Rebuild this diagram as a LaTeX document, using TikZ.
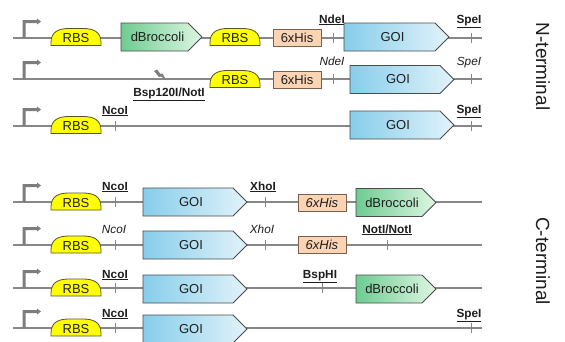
\documentclass[tikz,border=0pt]{standalone}
\usepackage{fontspec}
\setmainfont{Liberation Sans}
\usetikzlibrary{arrows.meta}
\definecolor{bbgray}{RGB}{135,135,135}
\definecolor{promgray}{RGB}{125,125,125}
\definecolor{outl}{RGB}{75,75,75}
\definecolor{rbsfill}{RGB}{255,255,0}
\definecolor{rbsline}{RGB}{85,85,45}
\definecolor{goiL}{RGB}{135,205,235}
\definecolor{goiR}{RGB}{226,243,250}
\definecolor{brL}{RGB}{110,204,145}
\definecolor{brR}{RGB}{222,246,226}
\definecolor{hisfill}{RGB}{251,212,180}
\definecolor{hisline}{RGB}{125,95,75}
\definecolor{txt}{RGB}{30,30,30}
\tikzset{
  bbline/.style={draw=bbgray, line width=1.1pt},
  promfill/.style={fill=promgray},
  sitetick/.style={draw=bbgray, line width=0.8pt},
  goistyle/.style={left color=goiL, right color=goiR, draw=outl, line width=0.8pt},
  brstyle/.style={left color=brL, right color=brR, draw=outl, line width=0.8pt},
  rbsstyle/.style={fill=rbsfill, draw=rbsline, line width=0.8pt},
  hisstyle/.style={fill=hisfill, draw=hisline, line width=0.8pt},
  boxtext/.style={inner sep=0pt, text=txt, font=\fontsize{13}{15}\selectfont},
  sitelab/.style={inner sep=0pt, anchor=base, text=txt, font=\fontsize{11.8}{14}\selectfont},
  sidelab/.style={inner sep=0pt, rotate=-90, text=txt, font=\fontsize{19}{22}\selectfont}
}
% backbone with promoter: name, y
\newcommand\mybackbone[2]{%
  \coordinate (#1s) at (13,#2);
  \coordinate (#1e) at (482,#2);
  \draw[bbline] (#1s) -- (#1e);
  \fill[promfill] (22.5,#2) -- (22.5,#2-18) -- (37,#2-18) -- (37,#2-19.5) -- (41,#2-16.5)
     -- (37,#2-13.5) -- (37,#2-15) -- (25.5,#2-15) -- (25.5,#2) -- cycle;}
% CDS arrow box: name, x0, x1, y, text, style
\newcommand\mycds[6]{%
  \shadedraw[#6] (#2,#4-14) -- (#3-14,#4-14) -- (#3,#4) -- (#3-14,#4+14) -- (#2,#4+14) -- cycle;
  \node[boxtext] (#1) at ({(#2+#3-14)/2+3},#4) {#5};}
% RBS: name, x0, y
\newcommand\myrbs[3]{%
  \filldraw[rbsstyle] (#2,#3+8) -- (#2,#3+5) .. controls (#2,#3-6) and (#2+8,#3-9) .. (#2+18,#3-9)
    -- (#2+32,#3-9) .. controls (#2+42,#3-9) and (#2+50,#3-6) .. (#2+50,#3+5) -- (#2+50,#3+8) -- cycle;
  \node[boxtext] (#1) at (#2+25,#3+1) {RBS};}
% 6xHis box: name, x0, y, text
\newcommand\myhis[4]{%
  \filldraw[hisstyle] (#2,#3-8.5) rectangle (#2+48,#3+8.5);
  \node[boxtext] (#1) at (#2+24,#3) {#4};}
% restriction tick: name, x, y
\newcommand\mytick[3]{%
  \coordinate (#1a) at (#2,#3-5);
  \coordinate (#1b) at (#2,#3+5);
  \draw[sitetick] (#1a) -- (#1b);}
\begin{document}
\begin{tikzpicture}[x=1pt,y=-1pt]
\useasboundingbox (0,0) rectangle (565,341);
\clip (0,0) rectangle (565,341);
\fill[white] (0,0) rectangle (565,341);

% ---------- N-terminal ----------
% Row 1
\mybackbone{ra}{38}
\myrbs{rbsa}{51}{37.5}
\mycds{bra}{121}{202}{37}{dBroccoli}{brstyle}
\myrbs{rbsb}{210}{37.5}
\myhis{hisa}{273}{37.5}{6xHis}
\mytick{tnda}{333}{38}
\node[sitelab] (lnda) at (332,23) {\underline{\textbf{NdeI}}};
\mycds{goia}{344}{449}{37}{GOI}{goistyle}
\mytick{tspa}{471}{38}
\node[sitelab] (lspa) at (469,23) {\underline{\textbf{SpeI}}};

% Row 2
\mybackbone{rb}{79}
\fill[promgray] (154,71) -- (157,69.5) -- (160.5,74) -- (162.5,73.5) -- (166,80) -- (161,76.5) -- (159,77) -- cycle;
\coordinate (brk) at (160,75);
\node[sitelab] (lbsp) at (169,96) {\underline{\textbf{Bsp120I/NotI}}};
\myrbs{rbsc}{210}{79.5}
\myhis{hisb}{273}{79.5}{6xHis}
\mytick{tndb}{333}{79}
\node[sitelab] (lndb) at (332,65) {\textit{NdeI}};
\mycds{goib}{350}{454}{79.5}{GOI}{goistyle}
\mytick{tspb}{471}{79}
\node[sitelab] (lspb) at (469,65) {\textit{SpeI}};

% Row 3
\mybackbone{rc}{126}
\myrbs{rbsd}{51}{125.5}
\mytick{tnca}{115}{126}
\node[sitelab] (lnca) at (115,114) {\underline{\textbf{NcoI}}};
\mycds{goic}{350}{454}{125}{GOI}{goistyle}
\mytick{tspc}{471}{126}
\node[sitelab] (lspc) at (469,113) {\underline{\textbf{SpeI}}};

\node[sidelab] (nterm) at (543,66.5) {N-terminal};

% ---------- C-terminal ----------
% Row 4
\mybackbone{rd}{202}
\myrbs{rbse}{51}{202}
\mytick{tncb}{115}{202}
\node[sitelab] (lncb) at (115,190) {\underline{\textbf{NcoI}}};
\mycds{goid}{143}{247}{202}{GOI}{goistyle}
\mytick{txha}{265}{202}
\node[sitelab] (lxha) at (263,190) {\underline{\textbf{XhoI}}};
\myhis{hisc}{298}{202.5}{\textit{6xHis}}
\mycds{brb}{356}{436}{202.5}{dBroccoli}{brstyle}

% Row 5
\mybackbone{re}{245}
\myrbs{rbsf}{51}{245}
\mytick{tncc}{115}{245}
\node[sitelab] (lncc) at (114,233) {\textit{NcoI}};
\mycds{goie}{143}{247}{245}{GOI}{goistyle}
\mytick{txhb}{265}{245}
\node[sitelab] (lxhb) at (262,233) {\textit{XhoI}};
\myhis{hisd}{298}{245}{\textit{6xHis}}
\mytick{tnot}{387}{245}
\node[sitelab] (lnot) at (387,233) {\underline{\textbf{NotI/NotI}}};

% Row 6
\mybackbone{rf}{288}
\myrbs{rbsg}{51}{288}
\mytick{tncd}{115}{288}
\node[sitelab] (lncd) at (115,278) {\underline{\textbf{NcoI}}};
\mycds{goif}{143}{247}{289}{GOI}{goistyle}
\mytick{tbsp}{322}{288}
\node[sitelab] (lbsh) at (320,278) {\underline{\textbf{BspHI}}};
\mycds{brc}{356}{436}{289}{dBroccoli}{brstyle}

% Row 7
\mybackbone{rg}{328}
\myrbs{rbsh}{51}{328}
\mytick{tnce}{115}{328}
\node[sitelab] (lnce) at (115,317) {\underline{\textbf{NcoI}}};
\mycds{goig}{143}{247}{329}{GOI}{goistyle}
\mytick{tspd}{471}{328}
\node[sitelab] (lspd) at (469,317) {\underline{\textbf{SpeI}}};

\node[sidelab] (cterm) at (543,261) {C-terminal};
\end{tikzpicture}
\end{document}
